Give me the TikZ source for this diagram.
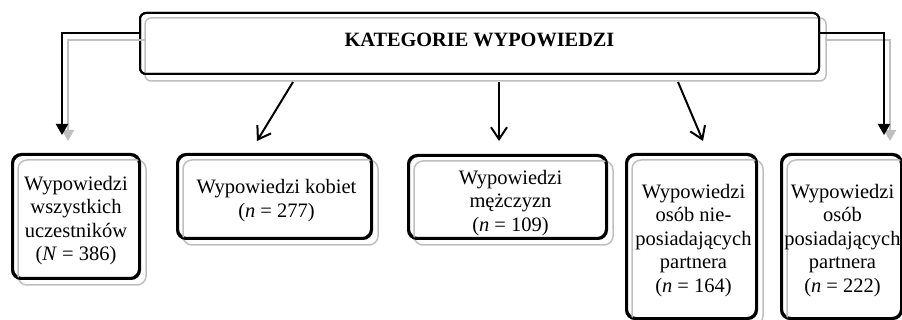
\documentclass[tikz,border=0pt]{standalone}
\usepackage{fontspec}
\setmainfont{Liberation Serif}
\usetikzlibrary{arrows.meta}
\tikzset{
  bbox/.style={draw=black, line width=2pt, rounded corners=9pt, inner sep=0pt},
  gbox/.style={draw=black!25, line width=1.5pt, rounded corners=9pt},
  txt/.style={align=center, font=\fontsize{20.5}{23.5}\selectfont, inner sep=0pt},
  blk/.style={draw=black, line width=2pt},
  gry/.style={draw=black!25, line width=2pt},
  openarr/.style={draw=black, line width=2pt, -{Straight Barb[length=12pt,width=16pt,line width=2pt]}},
  fillarr/.style={-{Triangle[length=11pt,width=12pt]}},
}
\begin{document}
\begin{tikzpicture}[x=1pt,y=-1pt]
\useasboundingbox[fill=white] (0,0) rectangle (902,320);
% title box
\node[bbox, rounded corners=6pt, minimum width=679pt, minimum height=61pt] (top) at (479.5,43.5) {};
\draw[gbox, rounded corners=6pt] ([shift={(6,6)}]top.north west) rectangle ([shift={(6,6)}]top.south east);
\node[bbox, rounded corners=6pt, minimum width=679pt, minimum height=61pt] at (479.5,43.5) {};
\node[anchor=base, font=\fontsize{20.3}{24}\selectfont\bfseries, inner sep=0pt] (title) at (479.5,47) {KATEGORIE WYPOWIEDZI};
% bottom boxes
\node[bbox, minimum width=126pt, minimum height=123pt] (b1) at (76,216.5) {};
\node[bbox, minimum width=193pt, minimum height=83pt] (b2) at (274.5,196.5) {};
\node[bbox, minimum width=197pt, minimum height=82pt] (b3) at (507.5,197) {};
\node[bbox, minimum width=129pt, minimum height=163pt] (b4) at (691.5,236.5) {};
\node[bbox, minimum width=119pt, minimum height=163pt] (b5) at (841.5,236.5) {};
\foreach \b in {b1,b2,b3,b4,b5}{
  \draw[gbox] ([shift={(6,6)}]\b.north west) rectangle ([shift={(6,6)}]\b.south east);
  \draw[bbox] (\b.north west) rectangle (\b.south east);
}
\node[txt] (t1) at ([shift={(0,4)}]b1.center) {Wypowiedzi\\wszystkich\\uczestników\\(\textit{N} = 386)};
\node[txt] (t2) at ([shift={(2,4)}]b2.center) {Wypowiedzi kobiet\\(\textit{n} = 277)};
\node[txt] (t3) at ([shift={(3,6)}]b3.center) {Wypowiedzi\\mężczyzn\\(\textit{n} = 109)};
\node[txt] (t4) at ([shift={(2,4)}]b4.center) {Wypowiedzi\\osób nie-\\posiadających\\partnera\\(\textit{n} = 164)};
\node[txt] (t5) at ([shift={(1,4)}]b5.center) {Wypowiedzi\\osób\\posiadających\\partnera\\(\textit{n} = 222)};
% connectors
\coordinate (gl) at (146,40);
\coordinate (gr) at (825,40);
\draw[gry, fillarr, black!25] (gl) -| ([shift={(-8,0)}]b1.north |- 0,141) ;
\draw[gry, fillarr, black!25] (gr) -| (890,141);
\draw[blk, fillarr] (top.west |- 0,33) -| (62,135);
\draw[blk, fillarr] (top.east |- 0,33) -| (884,135);
\draw[openarr] (293,82) -- (257,141);
\draw[openarr] (499,82) -- (499,141);
\draw[openarr] (678,82) -- (703,141);
\end{tikzpicture}
\end{document}
